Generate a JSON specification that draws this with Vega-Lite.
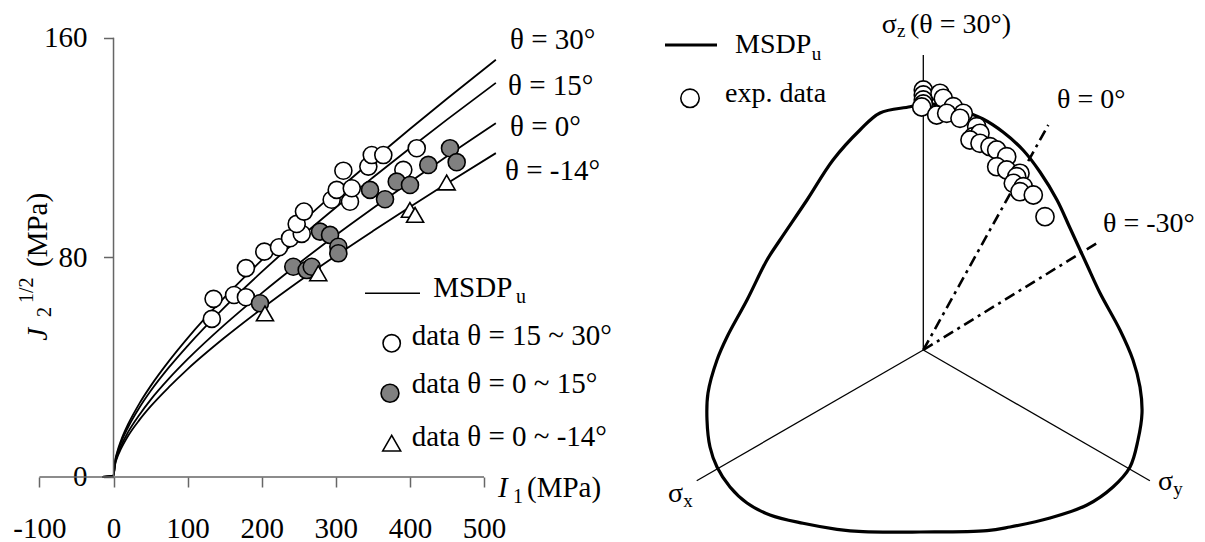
{
  "$schema": "https://vega.github.io/schema/vega-lite/v6.json",
  "width": 1205,
  "height": 542,
  "autosize": {"type": "none"},
  "padding": 0,
  "background": "white",
  "config": {
    "view": {"stroke": null},
    "font": "Liberation Serif",
    "text": {"font": "Liberation Serif", "color": "black"}
  },
  "datasets": {
    "curves": [
      {"theta": "30°", "I1": -15, "J": 0}, {"theta": "30°", "I1": 0, "J": 0.5}, {"theta": "30°", "I1": 2, "J": 5.6}, {"theta": "30°", "I1": 5, "J": 9.1}, {"theta": "30°", "I1": 10, "J": 13.2}, {"theta": "30°", "I1": 20, "J": 19.4}, {"theta": "30°", "I1": 35, "J": 26.8}, {"theta": "30°", "I1": 50, "J": 33.1}, {"theta": "30°", "I1": 75, "J": 42.3}, {"theta": "30°", "I1": 100, "J": 50.6}, {"theta": "30°", "I1": 150, "J": 65.5}, {"theta": "30°", "I1": 200, "J": 79.0}, {"theta": "30°", "I1": 250, "J": 91.8}, {"theta": "30°", "I1": 300, "J": 103.9}, {"theta": "30°", "I1": 350, "J": 115.5}, {"theta": "30°", "I1": 400, "J": 126.8}, {"theta": "30°", "I1": 450, "J": 137.8}, {"theta": "30°", "I1": 516, "J": 152.0},
      {"theta": "15°", "I1": -15, "J": 0}, {"theta": "15°", "I1": 0, "J": 0.5}, {"theta": "15°", "I1": 2, "J": 5.3}, {"theta": "15°", "I1": 5, "J": 8.6}, {"theta": "15°", "I1": 10, "J": 12.5}, {"theta": "15°", "I1": 20, "J": 18.3}, {"theta": "15°", "I1": 35, "J": 25.3}, {"theta": "15°", "I1": 50, "J": 31.3}, {"theta": "15°", "I1": 75, "J": 40.0}, {"theta": "15°", "I1": 100, "J": 47.8}, {"theta": "15°", "I1": 150, "J": 61.9}, {"theta": "15°", "I1": 200, "J": 74.7}, {"theta": "15°", "I1": 250, "J": 86.8}, {"theta": "15°", "I1": 300, "J": 98.2}, {"theta": "15°", "I1": 350, "J": 109.1}, {"theta": "15°", "I1": 400, "J": 119.8}, {"theta": "15°", "I1": 450, "J": 130.2}, {"theta": "15°", "I1": 516, "J": 143.6},
      {"theta": "0°", "I1": -15, "J": 0}, {"theta": "0°", "I1": 0, "J": 0.5}, {"theta": "0°", "I1": 2, "J": 4.7}, {"theta": "0°", "I1": 5, "J": 7.7}, {"theta": "0°", "I1": 10, "J": 11.2}, {"theta": "0°", "I1": 20, "J": 16.5}, {"theta": "0°", "I1": 35, "J": 22.7}, {"theta": "0°", "I1": 50, "J": 28.1}, {"theta": "0°", "I1": 75, "J": 35.9}, {"theta": "0°", "I1": 100, "J": 42.9}, {"theta": "0°", "I1": 150, "J": 55.5}, {"theta": "0°", "I1": 200, "J": 67.0}, {"theta": "0°", "I1": 250, "J": 77.8}, {"theta": "0°", "I1": 300, "J": 88.1}, {"theta": "0°", "I1": 350, "J": 97.9}, {"theta": "0°", "I1": 400, "J": 107.5}, {"theta": "0°", "I1": 450, "J": 116.9}, {"theta": "0°", "I1": 516, "J": 128.9},
      {"theta": "-14°", "I1": -15, "J": 0}, {"theta": "-14°", "I1": 0, "J": 0.5}, {"theta": "-14°", "I1": 2, "J": 4.3}, {"theta": "-14°", "I1": 5, "J": 7.1}, {"theta": "-14°", "I1": 10, "J": 10.2}, {"theta": "-14°", "I1": 20, "J": 15.1}, {"theta": "-14°", "I1": 35, "J": 20.8}, {"theta": "-14°", "I1": 50, "J": 25.7}, {"theta": "-14°", "I1": 75, "J": 32.8}, {"theta": "-14°", "I1": 100, "J": 39.3}, {"theta": "-14°", "I1": 150, "J": 50.8}, {"theta": "-14°", "I1": 200, "J": 61.3}, {"theta": "-14°", "I1": 250, "J": 71.2}, {"theta": "-14°", "I1": 300, "J": 80.6}, {"theta": "-14°", "I1": 350, "J": 89.6}, {"theta": "-14°", "I1": 400, "J": 98.4}, {"theta": "-14°", "I1": 450, "J": 106.9}, {"theta": "-14°", "I1": 516, "J": 118.0}
    ],
    "tests": [
      {"grp": "15~30", "I1": 132.7, "J": 57.6}, {"grp": "15~30", "I1": 135.0, "J": 64.9}, {"grp": "15~30", "I1": 162.7, "J": 66.3}, {"grp": "15~30", "I1": 178.7, "J": 65.5}, {"grp": "15~30", "I1": 178.7, "J": 76.1}, {"grp": "15~30", "I1": 203.5, "J": 82.1}, {"grp": "15~30", "I1": 223.3, "J": 83.7}, {"grp": "15~30", "I1": 238.2, "J": 87.0}, {"grp": "15~30", "I1": 254.0, "J": 88.6}, {"grp": "15~30", "I1": 247.2, "J": 92.2}, {"grp": "15~30", "I1": 257.0, "J": 96.7}, {"grp": "15~30", "I1": 294.4, "J": 101.0}, {"grp": "15~30", "I1": 301.2, "J": 104.6}, {"grp": "15~30", "I1": 310.2, "J": 111.6}, {"grp": "15~30", "I1": 319.1, "J": 100.3}, {"grp": "15~30", "I1": 321.5, "J": 105.2}, {"grp": "15~30", "I1": 343.9, "J": 113.1}, {"grp": "15~30", "I1": 348.5, "J": 117.3}, {"grp": "15~30", "I1": 364.1, "J": 117.3}, {"grp": "15~30", "I1": 391.1, "J": 111.9}, {"grp": "15~30", "I1": 409.2, "J": 119.8},
      {"grp": "0~15", "I1": 197.7, "J": 63.3}, {"grp": "0~15", "I1": 242.6, "J": 76.6}, {"grp": "0~15", "I1": 260.7, "J": 75.4}, {"grp": "0~15", "I1": 267.5, "J": 76.6}, {"grp": "0~15", "I1": 278.7, "J": 89.4}, {"grp": "0~15", "I1": 292.2, "J": 88.2}, {"grp": "0~15", "I1": 303.4, "J": 83.9}, {"grp": "0~15", "I1": 303.4, "J": 81.5}, {"grp": "0~15", "I1": 346.2, "J": 104.6}, {"grp": "0~15", "I1": 366.4, "J": 101.2}, {"grp": "0~15", "I1": 382.2, "J": 107.6}, {"grp": "0~15", "I1": 400.1, "J": 106.4}, {"grp": "0~15", "I1": 424.8, "J": 113.7}, {"grp": "0~15", "I1": 454.1, "J": 119.8}, {"grp": "0~15", "I1": 463.1, "J": 114.7},
      {"grp": "0~-14", "I1": 204.4, "J": 59.6}, {"grp": "0~-14", "I1": 276.3, "J": 74.2}, {"grp": "0~-14", "I1": 400.0, "J": 97.3}, {"grp": "0~-14", "I1": 407.0, "J": 95.5}, {"grp": "0~-14", "I1": 449.6, "J": 107.3}
    ],
    "locus": [
      {"i": 1, "s1": 0, "s2": 123.35}, {"i": 2, "s1": 8.35, "s2": 122.5}, {"i": 3, "s1": 18.35, "s2": 120}, {"i": 4, "s1": 29.85, "s2": 115.5}, {"i": 5, "s1": 39.85, "s2": 109}, {"i": 6, "s1": 49.85, "s2": 100}, {"i": 7, "s1": 58.35, "s2": 89}, {"i": 8, "s1": 66.85, "s2": 75}, {"i": 9, "s1": 73.35, "s2": 61}, {"i": 10, "s1": 81.85, "s2": 42.5}, {"i": 11, "s1": 88.35, "s2": 28.5}, {"i": 12, "s1": 98.35, "s2": 10}, {"i": 13, "s1": 104.85, "s2": -5}, {"i": 14, "s1": 108.35, "s2": -18.5}, {"i": 15, "s1": 109.35, "s2": -31.5}, {"i": 16, "s1": 107.35, "s2": -45}, {"i": 17, "s1": 103.35, "s2": -58.5}, {"i": 18, "s1": 94.85, "s2": -68.5}, {"i": 19, "s1": 81.85, "s2": -77.5}, {"i": 20, "s1": 63.35, "s2": -84}, {"i": 21, "s1": 43.35, "s2": -88.5}, {"i": 22, "s1": 31.85, "s2": -90.35}, {"i": 23, "s1": -1.65, "s2": -91}, {"i": 24, "s1": -30.15, "s2": -90.85}, {"i": 25, "s1": -43.15, "s2": -89.65}, {"i": 26, "s1": -60.15, "s2": -86.65}, {"i": 27, "s1": -76.65, "s2": -82.5}, {"i": 28, "s1": -88.15, "s2": -76.5}, {"i": 29, "s1": -96.65, "s2": -68.5}, {"i": 30, "s1": -103.15, "s2": -58.5}, {"i": 31, "s1": -106.65, "s2": -48.5}, {"i": 32, "s1": -108.15, "s2": -35}, {"i": 33, "s1": -107.65, "s2": -21.5}, {"i": 34, "s1": -103.15, "s2": -5}, {"i": 35, "s1": -98.15, "s2": 6.5}, {"i": 36, "s1": -88.15, "s2": 25}, {"i": 37, "s1": -78.15, "s2": 45}, {"i": 38, "s1": -71.65, "s2": 55}, {"i": 39, "s1": -58.15, "s2": 75}, {"i": 40, "s1": -45.15, "s2": 95}, {"i": 41, "s1": -31.65, "s2": 110}, {"i": 42, "s1": -21.65, "s2": 118.5}, {"i": 43, "s1": -6.65, "s2": 121.65}, {"i": 44, "s1": 0, "s2": 123.35}
    ],
    "stressAxes": [
      {"axis": "σz", "o1": 0, "o2": 0, "s1": 0, "s2": 147.5},
      {"axis": "σx", "o1": 0, "o2": 0, "s1": -113.3, "s2": -65.4},
      {"axis": "σy", "o1": 0, "o2": 0, "s1": 113.3, "s2": -65.4}
    ],
    "lodeRays": [
      {"theta": "0°", "o1": 0, "o2": 0, "s1": 62.5, "s2": 112.5},
      {"theta": "-30°", "o1": 0, "o2": 0, "s1": 86.7, "s2": 53.4}
    ],
    "exp": [
      {"s1": 0, "s2": 130}, {"s1": 0, "s2": 127.5}, {"s1": 0, "s2": 125}, {"s1": 0, "s2": 123}, {"s1": -0.8, "s2": 121.5}, {"s1": 8.35, "s2": 128.35}, {"s1": 10, "s2": 125.85}, {"s1": 6.7, "s2": 117.5}, {"s1": 15, "s2": 121.65}, {"s1": 11.7, "s2": 118.35}, {"s1": 20, "s2": 118.35}, {"s1": 18.35, "s2": 115.85}, {"s1": 26.7, "s2": 111.65}, {"s1": 25, "s2": 106.65}, {"s1": 28.35, "s2": 108.35}, {"s1": 23.35, "s2": 105}, {"s1": 28.35, "s2": 103.35}, {"s1": 33.35, "s2": 101.65}, {"s1": 36.7, "s2": 100}, {"s1": 41.7, "s2": 96.65}, {"s1": 36.7, "s2": 91.65}, {"s1": 41.7, "s2": 90}, {"s1": 48.35, "s2": 88.35}, {"s1": 46.7, "s2": 86.65}, {"s1": 45, "s2": 83.35}, {"s1": 50, "s2": 81.65}, {"s1": 48.35, "s2": 79.15}, {"s1": 55, "s2": 77.5}, {"s1": 60.85, "s2": 66.65}
    ]
  },
  "resolve": {"scale": {"x": "independent", "y": "independent"}},
  "layer": [
    {
      "layer": [
        {
          "data": {"name": "curves"},
          "mark": {"type": "line", "color": "black", "strokeWidth": 1.8, "interpolate": "monotone"},
          "encoding": {
            "x": {
              "field": "I1", "type": "quantitative",
              "scale": {"domain": [-153.2, 1473.0], "nice": false, "zero": false},
              "axis": {
                "orient": "bottom", "offset": -65, "domain": false, "grid": false,
                "values": [-100, 0, 100, 200, 300, 400, 500],
                "tickSize": 10, "tickColor": "#666666", "tickWidth": 1.5,
                "labelFont": "Liberation Serif", "labelFontSize": 29, "labelColor": "black",
                "labelBaseline": "alphabetic", "labelPadding": 50,
                "labelFlush": false, "labelOverlap": false,
                "labelExpr": "(datum.value < 0 ? '-' : '') + abs(datum.value)",
                "title": null
              }
            },
            "y": {
              "field": "J", "type": "quantitative",
              "scale": {"domain": [-23.7, 173.8], "nice": false, "zero": false},
              "axis": {
                "orient": "left", "offset": -113.5, "domain": false, "grid": false,
                "values": [0, 80, 160],
                "tickSize": 10, "tickColor": "#666666", "tickWidth": 1.5,
                "labelFont": "Liberation Serif", "labelFontSize": 29, "labelColor": "black",
                "labelBaseline": "middle", "labelPadding": 16.5,
                "labelFlush": false, "labelOverlap": false,
                "title": null
              }
            },
            "detail": {"field": "theta", "type": "nominal"}
          }
        },
        {
          "data": {"values": [{}]},
          "mark": {"type": "rule", "color": "#666666", "strokeWidth": 1.5},
          "encoding": {
            "x": {"datum": -100, "type": "quantitative"},
            "x2": {"datum": 500},
            "y": {"datum": 0, "type": "quantitative"}
          }
        },
        {
          "data": {"values": [{}]},
          "mark": {"type": "rule", "color": "#666666", "strokeWidth": 1.5},
          "encoding": {
            "x": {"datum": 0, "type": "quantitative"},
            "y": {"datum": 0, "type": "quantitative"},
            "y2": {"datum": 160}
          }
        },
        {
          "data": {"name": "tests"},
          "mark": {"type": "point", "filled": true, "stroke": "black", "strokeWidth": 1.6, "size": 290, "opacity": 1},
          "encoding": {
            "x": {"field": "I1", "type": "quantitative"},
            "y": {"field": "J", "type": "quantitative"},
            "shape": {"field": "grp", "type": "nominal", "scale": {"domain": ["15~30", "0~15", "0~-14"], "range": ["circle", "circle", "triangle-up"]}, "legend": null},
            "fill": {"field": "grp", "type": "nominal", "scale": {"domain": ["15~30", "0~15", "0~-14"], "range": ["#ffffff", "#808080", "#ffffff"]}, "legend": null}
          }
        },
        {
          "data": {"values": [{}]},
          "mark": {"type": "rule", "color": "black", "strokeWidth": 1.5},
          "encoding": {
            "x": {"datum": 339.4, "type": "quantitative"},
            "x2": {"datum": 413.6},
            "y": {"datum": 66.9, "type": "quantitative"}
          }
        },
        {
          "data": {"values": [{}]},
          "mark": {"type": "point", "shape": "circle", "filled": true, "fill": "white", "stroke": "black", "strokeWidth": 1.6, "size": 300, "opacity": 1},
          "encoding": {"x": {"datum": 375.4, "type": "quantitative"}, "y": {"datum": 48.7, "type": "quantitative"}}
        },
        {
          "data": {"values": [{}]},
          "mark": {"type": "point", "shape": "circle", "filled": true, "fill": "#808080", "stroke": "black", "strokeWidth": 1.6, "size": 320, "opacity": 1},
          "encoding": {"x": {"datum": 373.1, "type": "quantitative"}, "y": {"datum": 30.5, "type": "quantitative"}}
        },
        {
          "data": {"values": [{}]},
          "mark": {"type": "point", "shape": "triangle-up", "filled": true, "fill": "white", "stroke": "black", "strokeWidth": 1.6, "size": 320, "opacity": 1},
          "encoding": {"x": {"datum": 375.4, "type": "quantitative"}, "y": {"datum": 12.3, "type": "quantitative"}}
        },
        {
          "data": {"values": [{}]},
          "mark": {"type": "text", "align": "left", "baseline": "alphabetic", "fontSize": 29, "text": "θ = 30°"},
          "encoding": {"x": {"datum": 535.1, "type": "quantitative"}, "y": {"datum": 155.9, "type": "quantitative"}}
        },
        {
          "data": {"values": [{}]},
          "mark": {"type": "text", "align": "left", "baseline": "alphabetic", "fontSize": 29, "text": "θ = 15°"},
          "encoding": {"x": {"datum": 532.4, "type": "quantitative"}, "y": {"datum": 139.2, "type": "quantitative"}}
        },
        {
          "data": {"values": [{}]},
          "mark": {"type": "text", "align": "left", "baseline": "alphabetic", "fontSize": 29, "text": "θ = 0°"},
          "encoding": {"x": {"datum": 535.1, "type": "quantitative"}, "y": {"datum": 124.4, "type": "quantitative"}}
        },
        {
          "data": {"values": [{}]},
          "mark": {"type": "text", "align": "left", "baseline": "alphabetic", "fontSize": 29, "text": "θ = -14°"},
          "encoding": {"x": {"datum": 528.3, "type": "quantitative"}, "y": {"datum": 108.2, "type": "quantitative"}}
        },
        {
          "data": {"values": [{}]},
          "mark": {"type": "text", "align": "left", "baseline": "alphabetic", "fontSize": 29, "text": "MSDP"},
          "encoding": {"x": {"datum": 431.6, "type": "quantitative"}, "y": {"datum": 65.5, "type": "quantitative"}}
        },
        {
          "data": {"values": [{}]},
          "mark": {"type": "text", "align": "left", "baseline": "alphabetic", "fontSize": 20, "text": "u"},
          "encoding": {"x": {"datum": 543.0, "type": "quantitative"}, "y": {"datum": 63.4, "type": "quantitative"}}
        },
        {
          "data": {"values": [{}]},
          "mark": {"type": "text", "align": "left", "baseline": "alphabetic", "fontSize": 29, "text": "data θ = 15 ~ 30°"},
          "encoding": {"x": {"datum": 402.4, "type": "quantitative"}, "y": {"datum": 48.1, "type": "quantitative"}}
        },
        {
          "data": {"values": [{}]},
          "mark": {"type": "text", "align": "left", "baseline": "alphabetic", "fontSize": 29, "text": "data θ = 0 ~ 15°"},
          "encoding": {"x": {"datum": 402.4, "type": "quantitative"}, "y": {"datum": 30.7, "type": "quantitative"}}
        },
        {
          "data": {"values": [{}]},
          "mark": {"type": "text", "align": "left", "baseline": "alphabetic", "fontSize": 29, "text": "data θ = 0 ~ -14°"},
          "encoding": {"x": {"datum": 402.4, "type": "quantitative"}, "y": {"datum": 11.4, "type": "quantitative"}}
        },
        {
          "data": {"values": [{}]},
          "mark": {"type": "text", "align": "left", "baseline": "alphabetic", "fontSize": 29, "fontStyle": "italic", "text": "I"},
          "encoding": {"x": {"datum": 518.9, "type": "quantitative"}, "y": {"datum": -7.3, "type": "quantitative"}}
        },
        {
          "data": {"values": [{}]},
          "mark": {"type": "text", "align": "left", "baseline": "alphabetic", "fontSize": 20, "text": "1"},
          "encoding": {"x": {"datum": 539.1, "type": "quantitative"}, "y": {"datum": -9.5, "type": "quantitative"}}
        },
        {
          "data": {"values": [{}]},
          "mark": {"type": "text", "align": "left", "baseline": "alphabetic", "fontSize": 29, "text": "(MPa)"},
          "encoding": {"x": {"datum": 558.0, "type": "quantitative"}, "y": {"datum": -7.3, "type": "quantitative"}}
        },
        {
          "data": {"values": [{}]},
          "mark": {"type": "text", "align": "left", "baseline": "alphabetic", "angle": 270, "fontSize": 29, "fontStyle": "italic", "text": "J"},
          "encoding": {"x": {"datum": -89.7, "type": "quantitative"}, "y": {"datum": 49.6, "type": "quantitative"}}
        },
        {
          "data": {"values": [{}]},
          "mark": {"type": "text", "align": "left", "baseline": "alphabetic", "angle": 270, "fontSize": 20, "text": "2"},
          "encoding": {"x": {"datum": -84.3, "type": "quantitative"}, "y": {"datum": 58.3, "type": "quantitative"}}
        },
        {
          "data": {"values": [{}]},
          "mark": {"type": "text", "align": "left", "baseline": "alphabetic", "angle": 270, "fontSize": 20, "text": "1/2"},
          "encoding": {"x": {"datum": -108.6, "type": "quantitative"}, "y": {"datum": 63.4, "type": "quantitative"}}
        },
        {
          "data": {"values": [{}]},
          "mark": {"type": "text", "align": "left", "baseline": "alphabetic", "angle": 270, "fontSize": 29, "text": "(MPa)"},
          "encoding": {"x": {"datum": -90.4, "type": "quantitative"}, "y": {"datum": 76.5, "type": "quantitative"}}
        }
      ]
    },
    {
      "layer": [
        {
          "data": {"name": "stressAxes"},
          "mark": {"type": "rule", "color": "black", "strokeWidth": 1.3},
          "encoding": {
            "x": {"field": "o1", "type": "quantitative", "axis": null},
            "y": {"field": "o2", "type": "quantitative", "axis": null},
            "x2": {"field": "s1"},
            "y2": {"field": "s2"}
          }
        },
        {
          "data": {"name": "lodeRays"},
          "mark": {"type": "rule", "color": "black", "strokeWidth": 2.6, "strokeDash": [11, 5, 3, 5]},
          "encoding": {
            "x": {"field": "o1", "type": "quantitative", "axis": null},
            "y": {"field": "o2", "type": "quantitative", "axis": null},
            "x2": {"field": "s1"},
            "y2": {"field": "s2"}
          }
        },
        {
          "data": {"name": "locus"},
          "mark": {"type": "line", "color": "black", "strokeWidth": 3.2, "interpolate": "catmull-rom", "strokeJoin": "round"},
          "encoding": {
            "x": {"field": "s1", "type": "quantitative", "scale": {"domain": [-461.65, 140.85], "nice": false, "zero": false}, "axis": null},
            "y": {"field": "s2", "type": "quantitative", "scale": {"domain": [-96, 175], "nice": false, "zero": false}, "axis": null},
            "order": {"field": "i", "type": "quantitative"}
          }
        },
        {
          "data": {"name": "exp"},
          "mark": {"type": "point", "shape": "circle", "filled": true, "fill": "white", "stroke": "black", "strokeWidth": 1.6, "size": 330, "opacity": 1},
          "encoding": {
            "x": {"field": "s1", "type": "quantitative", "axis": null},
            "y": {"field": "s2", "type": "quantitative", "axis": null}
          }
        },
        {
          "data": {"values": [{}]},
          "mark": {"type": "rule", "color": "black", "strokeWidth": 3.2},
          "encoding": {
            "x": {"datum": -129.15, "type": "quantitative", "axis": null},
            "x2": {"datum": -103.15},
            "y": {"datum": 152.5, "type": "quantitative", "axis": null}
          }
        },
        {
          "data": {"values": [{}]},
          "mark": {"type": "point", "shape": "circle", "filled": true, "fill": "white", "stroke": "black", "strokeWidth": 1.6, "size": 340, "opacity": 1},
          "encoding": {"x": {"datum": -116.65, "type": "quantitative", "axis": null}, "y": {"datum": 125.85, "type": "quantitative", "axis": null}}
        },
        {
          "data": {"values": [{}]},
          "mark": {"type": "text", "align": "left", "baseline": "alphabetic", "fontSize": 28, "text": "MSDP"},
          "encoding": {"x": {"datum": -94.15, "type": "quantitative", "axis": null}, "y": {"datum": 148.5, "type": "quantitative", "axis": null}}
        },
        {
          "data": {"values": [{}]},
          "mark": {"type": "text", "align": "left", "baseline": "alphabetic", "fontSize": 19, "text": "u"},
          "encoding": {"x": {"datum": -55.8, "type": "quantitative", "axis": null}, "y": {"datum": 145, "type": "quantitative", "axis": null}}
        },
        {
          "data": {"values": [{}]},
          "mark": {"type": "text", "align": "left", "baseline": "alphabetic", "fontSize": 28, "text": "exp. data"},
          "encoding": {"x": {"datum": -99.15, "type": "quantitative", "axis": null}, "y": {"datum": 124.15, "type": "quantitative", "axis": null}}
        },
        {
          "data": {"values": [{}]},
          "mark": {"type": "text", "align": "left", "baseline": "alphabetic", "fontSize": 28, "text": "σ"},
          "encoding": {"x": {"datum": -20.8, "type": "quantitative", "axis": null}, "y": {"datum": 158.35, "type": "quantitative", "axis": null}}
        },
        {
          "data": {"values": [{}]},
          "mark": {"type": "text", "align": "left", "baseline": "alphabetic", "fontSize": 19, "text": "z"},
          "encoding": {"x": {"datum": -13.2, "type": "quantitative", "axis": null}, "y": {"datum": 156.6, "type": "quantitative", "axis": null}}
        },
        {
          "data": {"values": [{}]},
          "mark": {"type": "text", "align": "left", "baseline": "alphabetic", "fontSize": 28, "text": "(θ = 30°)"},
          "encoding": {"x": {"datum": -6.65, "type": "quantitative", "axis": null}, "y": {"datum": 158.35, "type": "quantitative", "axis": null}}
        },
        {
          "data": {"values": [{}]},
          "mark": {"type": "text", "align": "left", "baseline": "alphabetic", "fontSize": 28, "text": "θ = 0°"},
          "encoding": {"x": {"datum": 66.85, "type": "quantitative", "axis": null}, "y": {"datum": 120.85, "type": "quantitative", "axis": null}}
        },
        {
          "data": {"values": [{}]},
          "mark": {"type": "text", "align": "left", "baseline": "alphabetic", "fontSize": 28, "text": "θ = -30°"},
          "encoding": {"x": {"datum": 89.85, "type": "quantitative", "axis": null}, "y": {"datum": 58.85, "type": "quantitative", "axis": null}}
        },
        {
          "data": {"values": [{}]},
          "mark": {"type": "text", "align": "left", "baseline": "alphabetic", "fontSize": 28, "text": "σ"},
          "encoding": {"x": {"datum": -127.65, "type": "quantitative", "axis": null}, "y": {"datum": -76, "type": "quantitative", "axis": null}}
        },
        {
          "data": {"values": [{}]},
          "mark": {"type": "text", "align": "left", "baseline": "alphabetic", "fontSize": 19, "text": "x"},
          "encoding": {"x": {"datum": -120.0, "type": "quantitative", "axis": null}, "y": {"datum": -78.35, "type": "quantitative", "axis": null}}
        },
        {
          "data": {"values": [{}]},
          "mark": {"type": "text", "align": "left", "baseline": "alphabetic", "fontSize": 28, "text": "σ"},
          "encoding": {"x": {"datum": 117.35, "type": "quantitative", "axis": null}, "y": {"datum": -70, "type": "quantitative", "axis": null}}
        },
        {
          "data": {"values": [{}]},
          "mark": {"type": "text", "align": "left", "baseline": "alphabetic", "fontSize": 19, "text": "y"},
          "encoding": {"x": {"datum": 125.0, "type": "quantitative", "axis": null}, "y": {"datum": -72.5, "type": "quantitative", "axis": null}}
        }
      ]
    }
  ]
}
